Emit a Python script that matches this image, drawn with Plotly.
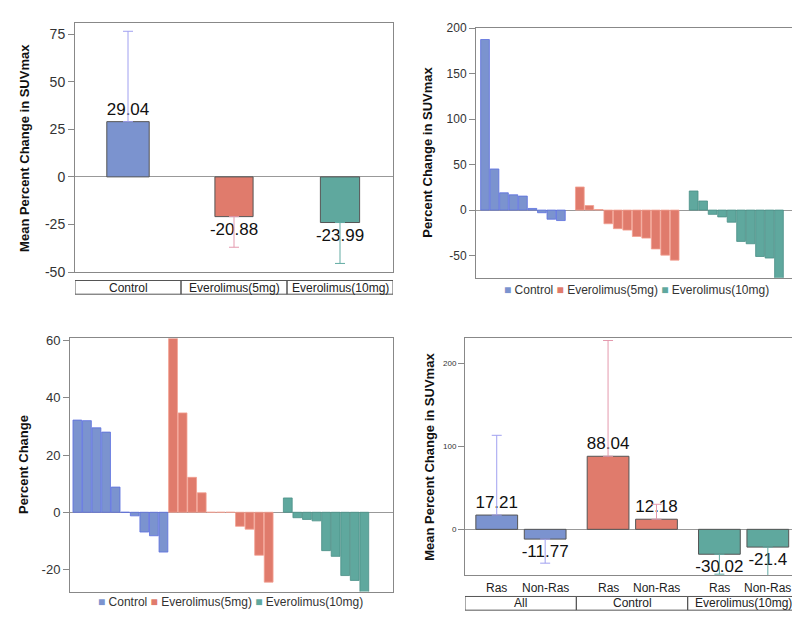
import plotly.graph_objects as go

# ---------------- data ----------------
p1_groups = ["Control", "Everolimus(5mg)", "Everolimus(10mg)"]
p1_means = [29.04, -20.88, -23.99]
p1_err = [47.5, 16.1, 21.5]
p1_yticks = [-50, -25, 0, 25, 50, 75]

p2_control = [187.5, 45.2, 19.0, 16.8, 15.4, 1.8, -2.9, -10.0, -11.5]
p2_eve5 = [25.4, 5.0, 0.6, -15.0, -20.4, -22.0, -29.0, -30.8, -42.7, -49.5, -55.0]
p2_eve10 = [21.0, 10.0, -4.7, -7.5, -13.3, -34.4, -37.0, -51.0, -52.7, -75.0]
p2_yticks = [-50, 0, 50, 100, 150, 200]

p3_control = [32.2, 32.0, 29.5, 28.0, 8.8, 0.0, -1.25, -6.9, -8.2, -13.9]
p3_eve5 = [61.0, 34.7, 12.2, 6.8, 0.0, 0.0, 0.0, -4.9, -5.9, -15.0, -24.4]
p3_eve10 = [5.0, -1.9, -2.5, -3.0, -13.4, -15.4, -22.1, -23.8, -28.0]
p3_yticks = [-20, 0, 20, 40, 60]

p4_groups = ["All", "Control", "Everolimus(10mg)"]
p4_sub = ["Ras", "Non-Ras"]
p4_means = [[17.21, -11.77], [88.04, 12.18], [-30.02, -21.4]]
p4_err = [[96.1, 29.0], [139.5, 18.0], [24.0, 35.0]]
p4_yticks = [0, 100, 200]

legend_names = ["Control", "Everolimus(5mg)", "Everolimus(10mg)"]

# ---------------- style ----------------
W, H = 800, 617
FONT = "Liberation Sans, Arial, Helvetica, sans-serif"
FILL = ["#7B93CF", "#E07B6C", "#5FA89E"]
ERRC = ["#A0A0F0", "#E49AAE", "#62ABA3"]
EDGE2 = ["#5C6FE0", "#F2A090", "#4A8F86"]
FRAME = "#888888"


def px(x):
    return x / W


def py(y):
    return 1 - y / H


def fmt(v):
    return "%g" % v


fig = go.Figure()

# ---------- panel 1 ----------
p1_width = [0.40, 0.36, 0.37]
for i, (g, m, e) in enumerate(zip(p1_groups, p1_means, p1_err)):
    up = m >= 0
    fig.add_trace(go.Bar(
        x=[i + 0.5], y=[m], width=[p1_width[i]], xaxis="x", yaxis="y",
        marker=dict(color=FILL[i], line=dict(color="#555555", width=1)),
        text=[fmt(m)], textposition="outside", constraintext="none",
        textfont=dict(size=17, color="#111111", family=FONT),
        error_y=dict(type="data", symmetric=False,
                     array=[e if up else 0], arrayminus=[0 if up else e],
                     color=ERRC[i], thickness=1, width=5),
        showlegend=False, hoverinfo="skip"))


def add_waterfall(groups, gaps, xa, ya):
    start = 0
    for k, vals in enumerate(groups):
        xs = list(range(start, start + len(vals)))
        fig.add_trace(go.Bar(
            x=xs, y=vals, width=0.92, xaxis=xa, yaxis=ya,
            marker=dict(color=FILL[k], line=dict(color=EDGE2[k], width=0.8)),
            showlegend=False, hoverinfo="skip"))
        start += len(vals) + (gaps[k] if k < len(gaps) else 0)


# ---------- panel 2 ----------
add_waterfall([p2_control, p2_eve5, p2_eve10], [1, 1], "x2", "y2")
# ---------- panel 3 ----------
add_waterfall([p3_control, p3_eve5, p3_eve10], [0, 1], "x3", "y3")

# ---------- panel 4 ----------
sub_off = [0.285, 0.72]
for i, g in enumerate(p4_groups):
    for j, s in enumerate(p4_sub):
        m = p4_means[i][j]
        e = p4_err[i][j]
        up = m >= 0
        fig.add_trace(go.Bar(
            x=[i + sub_off[j]], y=[m], width=[0.375], xaxis="x4", yaxis="y4",
            marker=dict(color=FILL[i], line=dict(color="#555555", width=1)),
            text=[fmt(m)], textposition="outside", constraintext="none",
            textfont=dict(size=17, color="#111111", family=FONT),
            error_y=dict(type="data", symmetric=False,
                         array=[e if up else 0], arrayminus=[0 if up else e],
                         color=ERRC[i], thickness=1, width=5),
            showlegend=False, hoverinfo="skip"))

# ---------- axes ----------
def xax(dom, rng):
    return dict(domain=[px(dom[0]), px(dom[1])], range=rng, showticklabels=False,
                ticks="", showgrid=False, zeroline=False, showline=True, mirror=True,
                linecolor=FRAME, linewidth=1, fixedrange=True)


def yax(dom, rng, ticks, fs):
    return dict(domain=[py(dom[1]), py(dom[0])], range=rng,
                tickmode="array", tickvals=ticks, ticktext=[fmt(t) for t in ticks],
                ticks="outside", ticklen=6, tickcolor=FRAME, tickwidth=1,
                tickfont=dict(size=fs, color="#333333", family=FONT),
                showgrid=False, zeroline=True, zerolinecolor="#999999", zerolinewidth=1,
                showline=True, mirror=True, linecolor=FRAME, linewidth=1, fixedrange=True)


layout = dict(
    width=W, height=H, margin=dict(l=0, r=0, t=0, b=0),
    paper_bgcolor="white", plot_bgcolor="white",
    font=dict(family=FONT, color="#333333"),
    barmode="overlay", showlegend=False,
    xaxis=xax((67, 385), [0, 3]),
    yaxis=yax((9, 264), [-50, 81], p1_yticks, 14),
    xaxis2=xax((468, 789), [-0.95, 32.9]),
    yaxis2=yax((14, 270), [-74.5, 200.5], p2_yticks, 12),
    xaxis3=xax((62, 385), [-0.77, 33]),
    yaxis3=yax((332, 591), [-27.7, 60.7], p3_yticks, 13),
    xaxis4=xax((457, 791), [0, 3]),
    yaxis4=yax((332, 574), [-55, 230], p4_yticks, 8),
)
for n in ("2", "3", "4"):
    layout["xaxis" + n]["anchor"] = "y" + n
    layout["yaxis" + n]["anchor"] = "x" + n
fig.update_layout(**layout)

annotations = []
shapes = []

# axis titles
for text, x, y in [("Mean Percent Change in SUVmax", 17, 137),
                   ("Percent Change in SUVmax", 420, 142),
                   ("Percent Change", 15, 461.5),
                   ("Mean Percent Change in SUVmax", 422, 453)]:
    annotations.append(dict(text="<b>" + text + "</b>", x=px(x), y=py(y), xref="paper", yref="paper",
                            textangle=-90, showarrow=False, xanchor="center", yanchor="middle",
                            font=dict(size=13, color="#111111", family=FONT)))

# category boxes panel 1
for i, g in enumerate(p1_groups):
    shapes.append(dict(type="rect", xref="x", yref="paper", x0=i, x1=i + 1,
                       y0=py(286.7), y1=py(272.7), line=dict(color="#555555", width=1)))
    annotations.append(dict(text=g, x=i + 0.5, y=py(280), xref="x", yref="paper", showarrow=False,
                            xanchor="center", yanchor="middle",
                            font=dict(size=12, color="#222222", family=FONT)))

# category boxes + sub labels panel 4
for i, g in enumerate(p4_groups):
    shapes.append(dict(type="rect", xref="x4", yref="paper", x0=i, x1=i + 1,
                       y0=py(610), y1=py(596), line=dict(color="#555555", width=1)))
    annotations.append(dict(text=g, x=i + 0.5, y=py(603), xref="x4", yref="paper", showarrow=False,
                            xanchor="center", yanchor="middle",
                            font=dict(size=12, color="#222222", family=FONT)))
    for j, s in enumerate(p4_sub):
        annotations.append(dict(text=s, x=i + sub_off[j], y=py(587), xref="x4", yref="paper",
                                showarrow=False, xanchor="center", yanchor="middle",
                                font=dict(size=12, color="#222222", family=FONT)))

# legends for panels 2 and 3
leg = " ".join('<span style="color:%s">■</span> %s' % (c, n) for c, n in zip(FILL, legend_names))
for x, y in [(628, 282), (222, 602)]:
    annotations.append(dict(text=leg, x=px(x), y=py(y), xref="paper", yref="paper", showarrow=False,
                            xanchor="center", yanchor="middle",
                            font=dict(size=12, color="#333333", family=FONT)))

fig.update_layout(annotations=annotations, shapes=shapes)
fig.write_html("out.html")
